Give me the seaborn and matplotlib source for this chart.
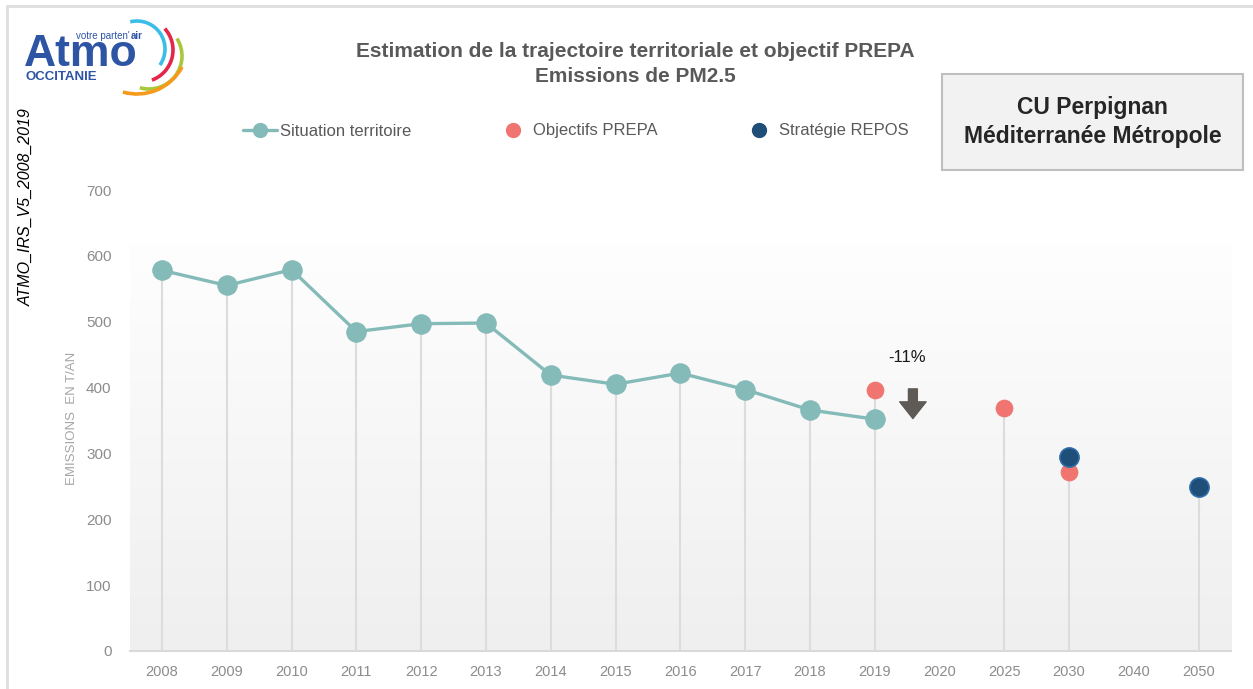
import numpy as np
import pandas as pd
import matplotlib
matplotlib.use("Agg")
import matplotlib.pyplot as plt
import seaborn as sns
from matplotlib import font_manager
from matplotlib.patches import Arc, Rectangle
from matplotlib.lines import Line2D
from matplotlib.colors import LinearSegmentedColormap

# ---------------- data ----------------
years = ["2008", "2009", "2010", "2011", "2012", "2013", "2014", "2015", "2016",
         "2017", "2018", "2019", "2020", "2025", "2030", "2040", "2050"]
situation_years = ["2008", "2009", "2010", "2011", "2012", "2013", "2014", "2015",
                   "2016", "2017", "2018", "2019"]
situation_values = [578, 555, 579, 485, 497, 498, 419, 405, 422, 397, 366, 352]
prepa_years = ["2019", "2025", "2030"]
prepa_values = [396, 369, 272]
repos_years = ["2030", "2050"]
repos_values = [294, 249]
yticks = [0, 100, 200, 300, 400, 500, 600, 700]

title = "Estimation de la trajectoire territoriale et objectif PREPA\nEmissions de PM2.5"
territory = "CU Perpignan\nMéditerranée Métropole"
legend_labels = ["Situation territoire", "Objectifs PREPA", "Stratégie REPOS"]

# ---------------- style ----------------
sns.set_theme(style="white")
available = {f.name for f in font_manager.fontManager.ttflist}
narrow = "Liberation Sans Narrow" if "Liberation Sans Narrow" in available else "Liberation Sans"
plt.rcParams["font.family"] = [narrow, "DejaVu Sans"]

TEAL = "#84bab8"
RED = "#f07470"
NAVY = "#1f4e79"
GRAY_TXT = "#8c8c8c"
LOGO_BLUE = "#2e54a4"

pos = {y: i for i, y in enumerate(years)}
df_sit = pd.DataFrame({"x": [pos[y] for y in situation_years], "v": situation_values})
df_pre = pd.DataFrame({"x": [pos[y] for y in prepa_years], "v": prepa_values})
df_rep = pd.DataFrame({"x": [pos[y] for y in repos_years], "v": repos_values})

fig = plt.figure(figsize=(12.53, 6.89), dpi=100)
ax = fig.add_axes([129.6 / 1253, 1 - 651 / 689, (1231 - 129.6) / 1253, (651 - 190) / 689])
ax.set_xlim(-0.5, len(years) - 0.5)
ax.set_ylim(0, 700)

# gradient background
grad = np.linspace(0, 1, 256).reshape(-1, 1)
cmap = LinearSegmentedColormap.from_list("g", ["#efefef", "#fefefe"])
ax.imshow(grad, extent=[-0.5, len(years) - 0.5, 0, 617], origin="lower",
          aspect="auto", cmap=cmap, zorder=0)

# drop lines
allx = {}
for d in (df_sit, df_pre, df_rep):
    for x, v in zip(d["x"], d["v"]):
        allx[x] = max(allx.get(x, 0), v)
ax.vlines(list(allx.keys()), 0, list(allx.values()), color="#dcdcdc", lw=1.5, zorder=1)

sns.lineplot(data=df_sit, x="x", y="v", ax=ax, color=TEAL, lw=2.4, marker="o",
             markersize=14, markeredgecolor=TEAL, zorder=3, legend=False)
sns.scatterplot(data=df_pre, x="x", y="v", ax=ax, color=RED, s=150, edgecolor=RED,
                linewidth=0.5, zorder=4, legend=False)
sns.scatterplot(data=df_rep, x="x", y="v", ax=ax, color=NAVY, s=190, edgecolor="#2f6ca8",
                linewidth=1.2, zorder=5, legend=False)

ax.set_xticks(range(len(years)))
ax.set_xticklabels(years)
ax.set_yticks(yticks)
ax.tick_params(axis="both", length=0, labelcolor=GRAY_TXT)
ax.tick_params(axis="x", labelsize=10.5, pad=10)
ax.tick_params(axis="y", labelsize=11, pad=13)
for s in ("top", "right", "left"):
    ax.spines[s].set_visible(False)
ax.spines["bottom"].set_color("#d9d9d9")
ax.spines["bottom"].set_linewidth(1.5)
ax.set_xlabel("")
ax.set_ylabel("EMISSIONS  EN T/AN", fontsize=9.5, color="#a6a6a6")
ax.yaxis.set_label_coords(-(129.6 - 78) / (1231 - 129.6), (651 - 418) / (651 - 190))
ax.set_facecolor("none")

# annotation -11% and arrow
ax.text(11.5, 446, "-11%", fontsize=12, color="#1a1a1a", ha="center", va="center")
ax.annotate("", xy=(11.59, 353), xytext=(11.59, 398),
            arrowprops=dict(arrowstyle="simple,head_length=0.6,head_width=0.95,tail_width=0.32",
                            color="#5f5a55", shrinkA=0, shrinkB=0, mutation_scale=20))

# legend
handles = [Line2D([], [], color=TEAL, lw=2.4, marker="o", markersize=10),
           Line2D([], [], color=RED, lw=0, marker="o", markersize=10),
           Line2D([], [], color=NAVY, lw=0, marker="o", markersize=10)]
fig.legend(handles, legend_labels, ncol=3, frameon=False, loc="center",
           bbox_to_anchor=(576 / 1253, 1 - 131 / 689), fontsize=12,
           labelcolor="#595959", handlelength=2.0, handletextpad=0.2,
           columnspacing=5.1)

# overlay in pixel coordinates
ov = fig.add_axes([0, 0, 1, 1], zorder=10)
ov.set_xlim(0, 1253)
ov.set_ylim(689, 0)
ov.axis("off")
ov.plot([6.5, 6.5], [689, 5.5], color="#dedede", lw=2)
ov.plot([6.5, 1253], [5.5, 5.5], color="#dedede", lw=2)

ov.text(635, 64, title, ha="center", va="center", fontsize=15, fontweight="bold",
        color="#595959", linespacing=1.35)

ov.add_patch(Rectangle((942, 74), 301, 96, facecolor="#f2f2f2", edgecolor="#bfbfbf", lw=1.5))
ov.text(1092.5, 122, territory, ha="center", va="center", fontsize=16.5,
        fontweight="bold", color="#262626", linespacing=1.3)

ov.text(26, 207, "ATMO_IRS_V5_2008_2019", rotation=90, ha="center", va="center",
        fontsize=11.5, style="italic", color="#000000")

# logo
ov.text(24, 66, "Atmo", fontsize=32, fontweight="bold", color=LOGO_BLUE,
        ha="left", va="baseline", family="Liberation Sans")
t1 = ov.text(76, 39, "votre parten'", fontsize=7, color=LOGO_BLUE, ha="left",
             va="baseline", family="Liberation Sans")
ov.annotate("air", xy=(1, 0), xycoords=t1, xytext=(0.8, 0), textcoords="offset points",
            fontsize=7, color=LOGO_BLUE, ha="left", va="bottom", fontweight="bold",
            family="Liberation Sans")
ov.text(25, 80, "OCCITANIE", fontsize=9.5, color=LOGO_BLUE, ha="left", va="baseline",
        fontweight="bold", family="Liberation Sans")
for (cx, cy), r, t1a, t2a, c in [((137, 49), 28, -104, 35, "#3cbde9"),
                                 ((141, 50), 32, -42, 70, "#e3264a"),
                                 ((149, 56), 33, -32, 106, "#a6c83a"),
                                 ((137, 43), 51, 28, 106, "#f59a1b")]:
    ov.add_patch(Arc((cx, cy), 2 * r, 2 * r, theta1=t1a, theta2=t2a, color=c, lw=2.6))

fig.savefig("out.png", dpi=100)
